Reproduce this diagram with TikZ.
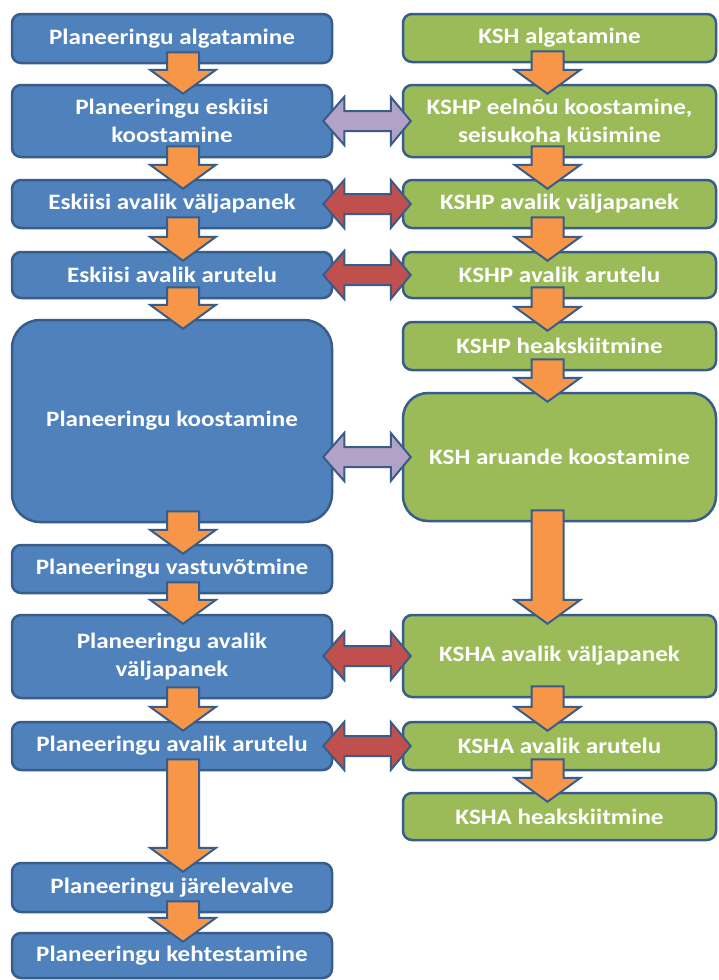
\documentclass[tikz,border=0pt]{standalone}
\usepackage{fontspec}
\newfontfamily\boxfont[FakeStretch=1.14]{Carlito}
\usetikzlibrary{calc}
\definecolor{planblue}{HTML}{4F81BD}
\definecolor{kshgreen}{HTML}{9BBB59}
\definecolor{edgeblue}{HTML}{385D8A}
\definecolor{steporange}{HTML}{F79646}
\definecolor{linklilac}{HTML}{B3A2C7}
\definecolor{linkred}{HTML}{C0504D}
\begin{document}
\begin{tikzpicture}[x=1pt, y=-1pt,
    box/.style={draw=edgeblue, line width=2.5pt, rounded corners=9pt, text=white,
      font=\boxfont\bfseries\fontsize{22}{28}\selectfont, align=center, inner sep=0pt},
    plan/.style={box, fill=planblue, minimum width=320pt},
    ksh/.style={box, fill=kshgreen, minimum width=313pt},
    downarrow/.style={draw=edgeblue, line width=2pt, fill=steporange},
    linkarrow/.style={draw=edgeblue, line width=2pt, fill=#1}]
    \fill[white] (0,0) rectangle (718,980);
    \useasboundingbox (0,0) rectangle (718,980);

    % planeering (left column)
    \node[plan, minimum height=49pt] (L1) at (172,38.5) {Planeeringu algatamine};
    \node[plan, minimum height=72pt] (L2) at (172,121) {Planeeringu eskiisi\\koostamine};
    \node[plan, minimum height=48pt] (L3) at (172,204) {Eskiisi avalik väljapanek};
    \node[plan, minimum height=46pt] (L4) at (172,275) {Eskiisi avalik arutelu};
    \node[plan, minimum height=202pt, rounded corners=28pt] (L5) at (172,421) {Planeeringu koostamine};
    \node[plan, minimum height=48pt] (L6) at (172,569) {Planeeringu vastuvõtmine};
    \node[plan, minimum height=83pt] (L7) at (172,656.5) {Planeeringu avalik\\väljapanek};
    \node[plan, minimum height=48pt] (L8) at (172,746) {Planeeringu avalik arutelu};
    \node[plan, minimum height=49pt] (L9) at (172,887.5) {Planeeringu järelevalve};
    \node[plan, minimum height=45pt] (L10) at (172,955.5) {Planeeringu kehtestamine};

    % KSH (right column)
    \node[ksh, minimum height=48pt] (R1) at (559.5,38) {KSH algatamine};
    \node[ksh, minimum height=72pt] (R2) at (559.5,121) {KSHP eelnõu koostamine,\\seisukoha küsimine};
    \node[ksh, minimum height=48pt] (R3) at (559.5,204) {KSHP avalik väljapanek};
    \node[ksh, minimum height=46pt] (R4) at (559.5,275) {KSHP avalik arutelu};
    \node[ksh, minimum height=48pt] (R5) at (559.5,346) {KSHP heakskiitmine};
    \node[ksh, minimum height=128pt, rounded corners=25pt] (R6) at (559.5,457) {KSH aruande koostamine};
    \node[ksh, minimum height=82pt] (R7) at (559.5,656) {KSHA avalik väljapanek};
    \node[ksh, minimum height=48pt] (R8) at (559.5,746) {KSHA avalik arutelu};
    \node[ksh, minimum height=47pt] (R9) at (559.5,816.5) {KSHA heakskiitmine};

    % steps down, left
    \foreach \a/\b in {L1/L2, L2/L3, L3/L4, L4/L5, L5/L6, L6/L7, L7/L8, L8/L9, L9/L10}
      \draw[downarrow] let \p1=(\a.south), \p2=(\b.north) in
        (\x1-5pt,\y1+12pt) -- (\x1+27pt,\y1+12pt) -- (\x1+27pt,\y2+14pt) -- (\x1+44pt,\y2+14pt)
        -- (\x1+11pt,\y2-10pt) -- (\x1-22pt,\y2+14pt) -- (\x1-5pt,\y2+14pt) -- cycle;

    % steps down, right
    \foreach \a/\b in {R1/R2, R2/R3, R3/R4, R4/R5, R5/R6, R6/R7, R7/R8, R8/R9}
      \draw[downarrow] let \p1=(\a.south), \p2=(\b.north) in
        (\x1-28pt,\y1+12pt) -- (\x1+4pt,\y1+12pt) -- (\x1+4pt,\y2+14pt) -- (\x1+21pt,\y2+14pt)
        -- (\x1-12pt,\y2-10pt) -- (\x1-45pt,\y2+14pt) -- (\x1-28pt,\y2+14pt) -- cycle;

    % links between the columns
    \foreach \a/\b/\c in {L2/R2/linklilac, L3/R3/linkred, L4/R4/linkred,
                          L5/R6/linklilac, L7/R7/linkred, L8/R8/linkred}
      \draw[linkarrow=\c] let \p1=(\a.east), \p2=(\b.west) in
        (\x1-10pt,\y2) -- (\x1+11pt,\y2+24pt) -- (\x1+11pt,\y2+10pt) -- (\x2-11pt,\y2+10pt)
        -- (\x2-11pt,\y2+24pt) -- (\x2+9pt,\y2) -- (\x2-11pt,\y2-24pt) -- (\x2-11pt,\y2-10pt)
        -- (\x1+11pt,\y2-10pt) -- (\x1+11pt,\y2-24pt) -- cycle;
\end{tikzpicture}
\end{document}
